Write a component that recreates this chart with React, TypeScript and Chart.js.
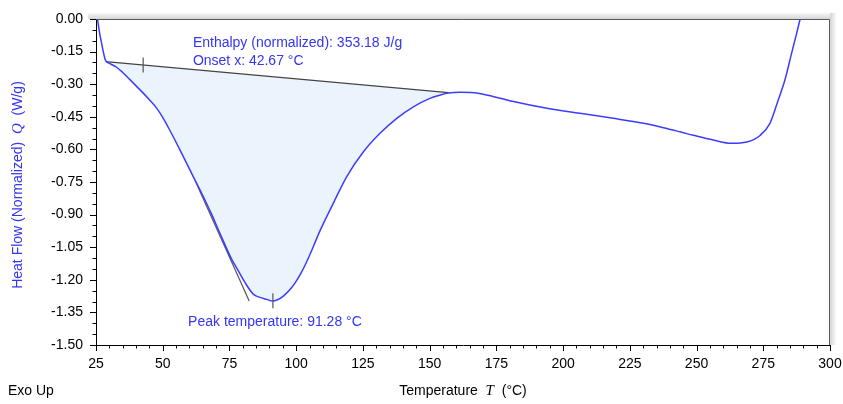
import React, { useEffect, useRef } from 'react';
import { Chart, registerables } from 'chart.js';

Chart.register(...registerables);

// ---- data ----
const temperature = [
  24.8, 25.5, 26.3, 27.1, 27.9, 28.4, 29.0, 30.5, 32.7, 35.0, 37.7, 40.2, 42.7, 45.0, 47.7, 50.0,
  52.0, 56.5, 60.0, 64.0, 68.0, 71.5, 75.8, 77.7, 80.8, 83.9, 86.4, 89.0, 91.1, 93.0, 95.2, 97.7,
  99.6, 101.7, 103.9, 106.4, 108.9, 113.9, 118.9, 125.2, 131.4, 137.7, 143.9, 150.1, 154.0, 157.0, 161.4,
  165.8, 170.1, 181.4, 193.9, 206.3, 218.8, 230.1, 237.6, 243.8, 248.8, 256.3, 263.2, 268.8, 273.8,
  277.5, 280.6, 283.1, 285.6, 287.5, 288.8, 289.4,
];
const heatFlow = [
  0.02, 0.0, -0.06, -0.112, -0.16, -0.185, -0.197, -0.207, -0.222, -0.246, -0.279, -0.31, -0.341, -0.372, -0.41, -0.453,
  -0.497, -0.603, -0.69, -0.787, -0.89, -0.988, -1.105, -1.145, -1.212, -1.266, -1.281, -1.29, -1.298, -1.292, -1.275, -1.245,
  -1.214, -1.172, -1.118, -1.048, -0.975, -0.848, -0.726, -0.611, -0.526, -0.457, -0.404, -0.365, -0.35, -0.341, -0.337,
  -0.338, -0.346, -0.38, -0.411, -0.434, -0.457, -0.48, -0.5, -0.519, -0.535, -0.557, -0.572, -0.566, -0.536,
  -0.48, -0.373, -0.281, -0.158, -0.066, 0.0, 0.03,
];
const baselineT = [28.7, 157.0];
const baselineQ = [-0.196, -0.339];
const tangentT = [42.67, 82.4];
const tangentQ = [-0.2116, -1.298];
const onsetPoint = { t: 42.67, q: -0.2116 };
const peakPoint = { t: 91.28, q: -1.296 };

const xRange = [25, 300];
const yRange = [-1.5, 0];
const xMajorStep = 25;
const xMinorStep = 5;
const yMajorStep = 0.15;
const yMinorStep = 0.05;

const enthalpyLabel = 'Enthalpy (normalized): 353.18 J/g';
const onsetLabel = 'Onset x: 42.67 °C';
const peakLabel = 'Peak temperature: 91.28 °C';
const enthalpyPos = { t: 61.3, q: -0.11 };
const onsetPos = { t: 61.3, q: -0.193 };
const peakPos = { t: 59.5, q: -1.394 };

const FONT = '"Liberation Sans", Arial, sans-serif';
const SERIF = '"Liberation Serif", "DejaVu Serif", serif';
const BLUE_TEXT = '#3535f2';
const BLUE_LINE = '#3c3cff';
const FILL = '#ebf4fd';

type Part = { text: string; font: string };

function drawRich(ctx: CanvasRenderingContext2D, parts: Part[], x: number, y: number, rot: number, color: string) {
  ctx.save();
  let total = 0;
  const widths = parts.map((p) => {
    ctx.font = p.font;
    const w = ctx.measureText(p.text).width;
    total += w;
    return w;
  });
  ctx.translate(x, y);
  ctx.rotate(rot);
  ctx.textBaseline = 'middle';
  ctx.textAlign = 'left';
  ctx.fillStyle = color;
  let cur = -total / 2;
  parts.forEach((p, i) => {
    ctx.font = p.font;
    ctx.fillText(p.text, cur, 0);
    cur += widths[i];
  });
  ctx.restore();
}

const decor = {
  id: 'decor',
  beforeDraw(chart: any) {
    const { ctx, chartArea: a } = chart;
    ctx.save();
    let g = ctx.createLinearGradient(0, a.top - 6, 0, a.top);
    g.addColorStop(0, '#f8f8f8');
    g.addColorStop(1, '#d4d4d4');
    ctx.fillStyle = g;
    ctx.fillRect(a.left - 8, a.top - 6, a.right - a.left + 14, 6);
    g = ctx.createLinearGradient(a.right + 6, 0, a.right, 0);
    g.addColorStop(0, '#f8f8f8');
    g.addColorStop(1, '#d4d4d4');
    ctx.fillStyle = g;
    ctx.fillRect(a.right, a.top - 6, 6, a.bottom - a.top + 6);
    ctx.fillStyle = '#ffffff';
    ctx.fillRect(a.left, a.top, a.right - a.left, a.bottom - a.top);
    ctx.restore();
  },
  afterDatasetsDraw(chart: any) {
    const { ctx, chartArea: a, scales } = chart;
    const xs = scales.x;
    const ys = scales.y;
    ctx.save();
    // frame top/right
    ctx.strokeStyle = '#5a5a5a';
    ctx.lineWidth = 1;
    ctx.beginPath();
    ctx.moveTo(a.left, a.top + 0.5);
    ctx.lineTo(a.right - 0.5, a.top + 0.5);
    ctx.lineTo(a.right - 0.5, a.bottom);
    ctx.stroke();

    // tick marks
    ctx.strokeStyle = '#000';
    ctx.beginPath();
    for (let v = xRange[0]; v <= xRange[1] + 1e-9; v += xMinorStep) {
      const px = Math.round(xs.getPixelForValue(v)) + 0.5;
      const major = Math.abs(v / xMajorStep - Math.round(v / xMajorStep)) < 1e-6;
      ctx.moveTo(px, a.bottom);
      ctx.lineTo(px, a.bottom + (major ? 6 : 3.5));
    }
    const nY = Math.round((yRange[1] - yRange[0]) / yMinorStep);
    for (let i = 0; i <= nY; i++) {
      const v = yRange[0] + i * yMinorStep;
      const py = Math.round(ys.getPixelForValue(v)) + 0.5;
      const major = i % Math.round(yMajorStep / yMinorStep) === 0;
      ctx.moveTo(a.left, py);
      ctx.lineTo(a.left - (major ? 6 : 3.5), py);
    }
    ctx.stroke();

    // onset & peak markers
    ctx.strokeStyle = '#555';
    ctx.lineWidth = 1.2;
    ctx.beginPath();
    [onsetPoint, peakPoint].forEach((p) => {
      const px = xs.getPixelForValue(p.t);
      const py = ys.getPixelForValue(p.q);
      ctx.moveTo(px, py - 7.5);
      ctx.lineTo(px, py + 7.5);
    });
    ctx.stroke();

    // annotations
    ctx.fillStyle = BLUE_TEXT;
    ctx.font = '14px ' + FONT;
    ctx.textAlign = 'left';
    ctx.textBaseline = 'middle';
    ctx.fillText(enthalpyLabel, xs.getPixelForValue(enthalpyPos.t), ys.getPixelForValue(enthalpyPos.q));
    ctx.fillText(onsetLabel, xs.getPixelForValue(onsetPos.t), ys.getPixelForValue(onsetPos.q));
    ctx.fillText(peakLabel, xs.getPixelForValue(peakPos.t), ys.getPixelForValue(peakPos.q));
    ctx.restore();

    // axis titles
    drawRich(
      ctx,
      [
        { text: 'Heat Flow (Normalized)  ', font: '14px ' + FONT },
        { text: 'Q', font: 'italic 15px ' + SERIF },
        { text: '  (W/g)', font: '14px ' + FONT },
      ],
      18,
      (a.top + a.bottom) / 2 + 3,
      -Math.PI / 2,
      BLUE_TEXT
    );
    drawRich(
      ctx,
      [
        { text: 'Temperature  ', font: '14px ' + FONT },
        { text: 'T', font: 'italic 15px ' + SERIF },
        { text: '  (°C)', font: '14px ' + FONT },
      ],
      (a.left + a.right) / 2,
      391,
      0,
      '#000'
    );
    ctx.save();
    ctx.fillStyle = '#000';
    ctx.font = '14px ' + FONT;
    ctx.textAlign = 'left';
    ctx.textBaseline = 'middle';
    ctx.fillText('Exo Up', 8, 391);
    ctx.restore();
  },
};

export default function App() {
  const ref = useRef<HTMLCanvasElement | null>(null);
  useEffect(() => {
    if (!ref.current) return;
    const curve = temperature.map((t, i) => ({ x: t, y: heatFlow[i] }));
    const baseline = baselineT.map((t, i) => ({ x: t, y: baselineQ[i] }));
    const tangent = tangentT.map((t, i) => ({ x: t, y: tangentQ[i] }));
    const chart = new Chart(ref.current, {
      type: 'line',
      data: {
        datasets: [
          {
            data: curve,
            borderColor: BLUE_LINE,
            borderWidth: 1.5,
            pointRadius: 0,
            cubicInterpolationMode: 'monotone',
            fill: false,
          },
          {
            data: baseline,
            borderColor: '#444',
            borderWidth: 1.2,
            pointRadius: 0,
            backgroundColor: FILL,
            fill: { target: 0, above: FILL, below: FILL },
          },
          {
            data: tangent,
            borderColor: '#555',
            borderWidth: 1.2,
            pointRadius: 0,
            fill: false,
          },
        ],
      } as any,
      plugins: [decor],
      options: {
        responsive: false,
        animation: false,
        events: [],
        layout: { padding: { left: 0, right: 13, top: 19, bottom: 0 } },
        plugins: {
          legend: { display: false },
          tooltip: { enabled: false },
          filler: { propagate: false },
        },
        scales: {
          x: {
            type: 'linear',
            min: xRange[0],
            max: xRange[1],
            afterFit: (s: any) => {
              s.height = 59;
              s.paddingLeft = 0;
              s.paddingRight = 0;
            },
            grid: { display: false, drawTicks: false, tickLength: 0 },
            border: { display: true, color: '#000', width: 1 },
            ticks: {
              stepSize: xMajorStep,
              padding: 11,
              color: '#000',
              font: { family: FONT, size: 14 },
              maxRotation: 0,
              autoSkip: false,
            },
          },
          y: {
            type: 'linear',
            min: yRange[0],
            max: yRange[1],
            afterFit: (s: any) => {
              s.width = 96;
              s.paddingTop = 0;
              s.paddingBottom = 0;
            },
            grid: { display: false, drawTicks: false, tickLength: 0 },
            border: { display: true, color: '#000', width: 1 },
            ticks: {
              stepSize: yMajorStep,
              padding: 13,
              color: '#000',
              font: { family: FONT, size: 14 },
              autoSkip: false,
              callback: (v: any) => Number(v).toFixed(2),
            },
          },
        },
      } as any,
    });
    return () => chart.destroy();
  }, []);
  return (
    <div style={{ position: 'absolute', left: 0, top: 0, width: 843, height: 404, background: '#fff' }}>
      <canvas ref={ref} width={843} height={404} style={{ display: 'block' }} />
    </div>
  );
}
